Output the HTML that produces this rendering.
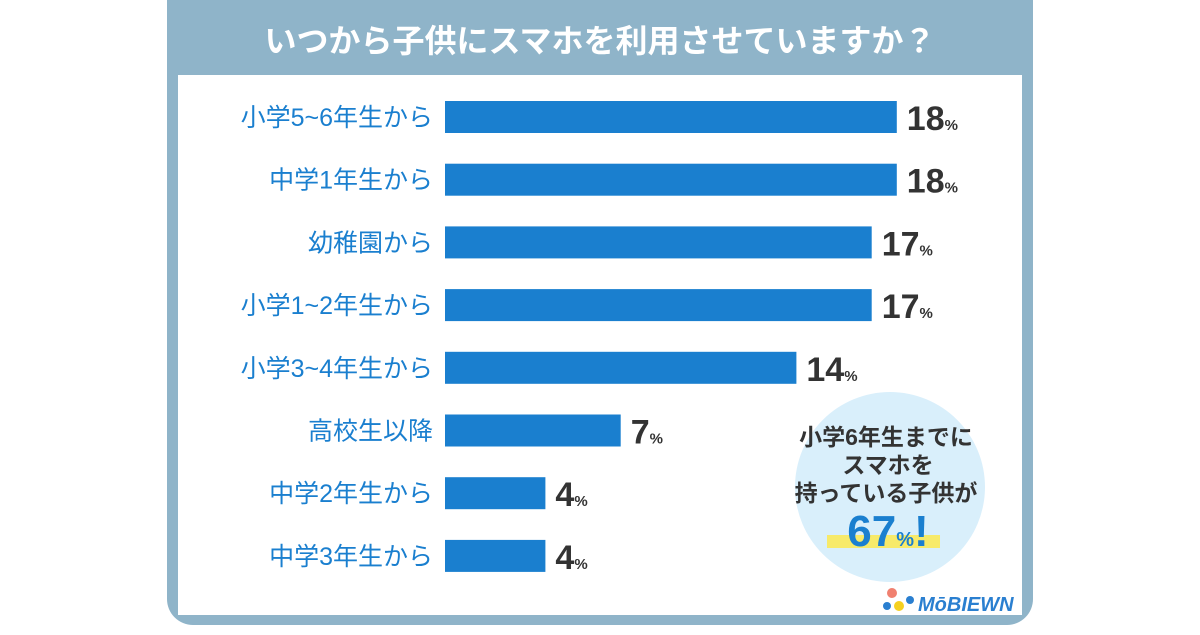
<!DOCTYPE html>
<html><head><meta charset="utf-8"><style>
body{margin:0;width:1200px;height:630px;background:#fff;overflow:hidden;font-family:"Liberation Sans","Noto Sans CJK JP",sans-serif}
</style></head><body>
<svg width="1200" height="630" viewBox="0 0 1200 630">
<rect x="167" y="-30" width="866" height="655" rx="26" fill="#8fb4c9"/>
<rect x="178" y="75" width="844" height="540" fill="#fff"/>
<text x="600" y="52" text-anchor="middle" font-size="32" font-weight="bold" fill="#fff">いつから子供にスマホを利用させていますか？</text>
<circle cx="890" cy="487" r="95" fill="#d9effb"/>
<rect x="827" y="535" width="113" height="13" fill="#f7ea6a"/>
<g font-size="23" font-weight="bold" fill="#333" text-anchor="middle">
<text x="886" y="445">小学6年生までに</text>
<text x="888" y="473">スマホを</text>
<text x="886" y="501">持っている子供が</text>
</g>
<text x="888" y="546" text-anchor="middle" fill="#1a7fcf" font-weight="bold"><tspan font-size="44">67</tspan><tspan font-size="20">%</tspan><tspan font-size="44">!</tspan></text>
<g>
<circle cx="892" cy="593" r="5" fill="#f08070"/><circle cx="887" cy="606" r="4" fill="#2a7fd0"/><circle cx="899" cy="606" r="5" fill="#f5d020"/><circle cx="910" cy="600" r="4" fill="#2a7fd0"/>
<text x="918" y="611" font-size="20" font-weight="bold" font-style="italic" fill="#2a7fd0">MōBIEWN</text>
</g>
<g id="bars"></g>
</svg>
<script>
const categories=["小学5~6年生から","中学1年生から","幼稚園から","小学1~2年生から","小学3~4年生から","高校生以降","中学2年生から","中学3年生から"];
const values=[18,18,17,17,14,7,4,4];
const x0=445, pxPer=25.1, y0=117, step=62.7, bh=32;
const xs=v=>x0+v*pxPer, ys=i=>y0+i*step;
const g=document.getElementById('bars'), NS="http://www.w3.org/2000/svg";
categories.forEach((c,i)=>{
 const r=document.createElementNS(NS,'rect');
 r.setAttribute('x',x0);r.setAttribute('y',ys(i)-bh/2);r.setAttribute('width',xs(values[i])-x0);r.setAttribute('height',bh);r.setAttribute('fill','#1a7fcf');
 
 
 g.appendChild(r);
 const t=document.createElementNS(NS,'text');
 t.setAttribute('x',433);t.setAttribute('y',ys(i)+9);t.setAttribute('text-anchor','end');t.setAttribute('font-size','25');t.setAttribute('fill','#1a7fcf');
 t.textContent=c;
 
 
 g.appendChild(t);
 const v=document.createElementNS(NS,'text');
 v.setAttribute('x',xs(values[i])+10);v.setAttribute('y',ys(i)+13);v.setAttribute('fill','#333');v.setAttribute('font-weight','bold');
 v.innerHTML='<tspan font-size="34">'+values[i]+'</tspan><tspan font-size="15">%</tspan>';
 
 
 g.appendChild(v);
});
</script>
</body></html>
